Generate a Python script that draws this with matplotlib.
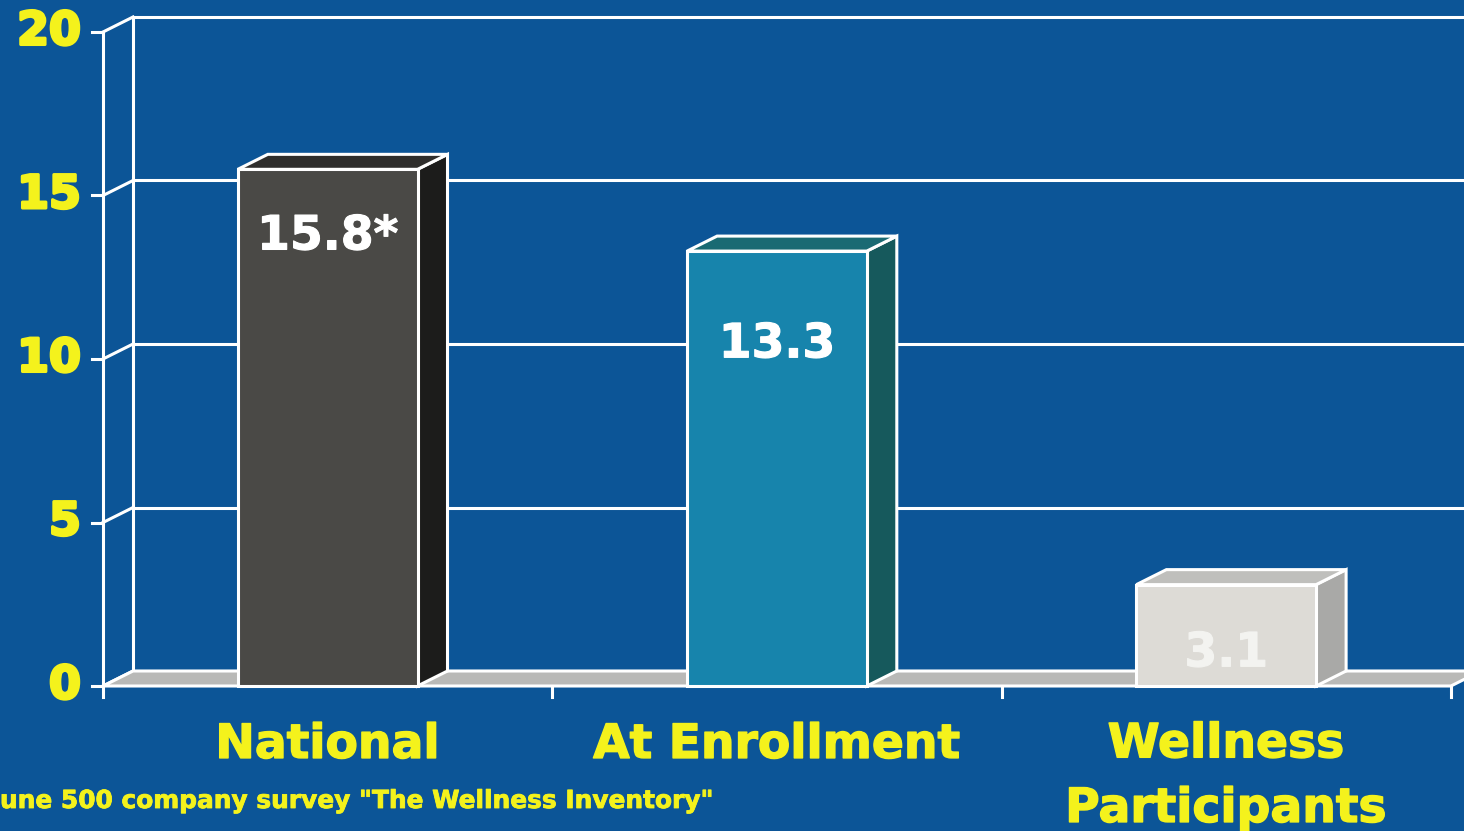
import matplotlib
matplotlib.use("Agg")
import matplotlib.pyplot as plt
from matplotlib.patches import Polygon
import matplotlib.patheffects as pe

# ---- data ----
categories = ["National", "At Enrollment", "Wellness\nParticipants"]
values = [15.8, 13.3, 3.1]
value_labels = ["15.8*", "13.3", "3.1"]
yticks = [0, 5, 10, 15, 20]
footnote = 'une 500 company survey "The Wellness Inventory"'

# ---- style ----
BG = "#0c5597"
YELLOW = "#f4f21c"
front_cols = ["#4a4946", "#1784ac", "#dddbd6"]
side_cols = ["#1c1c1b", "#16595c", "#a9a9a7"]
top_cols = ["#2f2e2c", "#1a6a73", "#bfbfbc"]
label_cols = ["white", "white", "#f3f3f0"]
label_drop = [2.45, 3.25, 2.5]   # label baseline below bar top (data units)

W, H = 1464, 831
fig = plt.figure(figsize=(W / 100, H / 100), dpi=100, facecolor=BG)
ax = fig.add_axes([0, 0, 1, 1])
ax.set_facecolor(BG)
ax.axis("off")

# pixel-calibrated limits: category i centred at i, value scale 32.7 px/unit
PXU_X, PXU_Y = 449.3, 32.7
X0PX, Y0PX = 103, 686
ax.set_xlim((0 - X0PX) / PXU_X - 0.5, (W - X0PX) / PXU_X - 0.5)
ax.set_ylim((Y0PX - H) / PXU_Y, Y0PX / PXU_Y)

DX = 30 / PXU_X        # depth offset x
DY = 15 / PXU_Y        # depth offset y
left = -0.5
right = left + len(categories)
hw = 0.2
LW = 2.2

heavy = [pe.withStroke(linewidth=2.2, foreground=YELLOW)]
bold_y = [pe.withStroke(linewidth=1.0, foreground=YELLOW)]

# back wall gridlines + left diagonals + left front ticks
for t in yticks:
    ax.plot([left + DX, right + DX + 1], [t + DY, t + DY], color="white", lw=LW, zorder=1)
    ax.plot([left, left + DX], [t, t + DY], color="white", lw=LW, zorder=1)
    ax.plot([left - 11 / PXU_X, left], [t, t], color="white", lw=LW, zorder=1)
    ax.text(left - 22 / PXU_X, t, str(t), color=YELLOW, fontsize=33, fontweight="heavy",
            ha="right", va="center", zorder=5, path_effects=heavy)
ax.plot([left + DX, left + DX], [0 + DY, max(yticks) + DY], color="white", lw=LW, zorder=1)
ax.plot([left, left], [-11 / PXU_Y, max(yticks)], color="white", lw=LW, zorder=1)

# floor
floor = Polygon([[left, 0], [right, 0], [right + DX, DY], [left + DX, DY]], closed=True,
                facecolor="#b9b9b7", edgecolor="white", lw=LW, zorder=2)
ax.add_patch(floor)
for i in range(1, len(categories) + 1):
    ax.plot([left + i, left + i], [0, -11 / PXU_Y], color="white", lw=LW, zorder=2)

# bars
for i, v in enumerate(values):
    x0, x1 = i - hw, i + hw
    front = Polygon([[x0, 0], [x1, 0], [x1, v], [x0, v]], closed=True,
                    facecolor=front_cols[i], edgecolor="white", lw=LW, zorder=4)
    side = Polygon([[x1, 0], [x1 + DX, DY], [x1 + DX, v + DY], [x1, v]], closed=True,
                   facecolor=side_cols[i], edgecolor="white", lw=LW, zorder=3)
    top = Polygon([[x0, v], [x1, v], [x1 + DX, v + DY], [x0 + DX, v + DY]], closed=True,
                  facecolor=top_cols[i], edgecolor="white", lw=LW, zorder=3)
    for p in (side, top, front):
        ax.add_patch(p)
    ax.text(i, v - label_drop[i], value_labels[i], color=label_cols[i], fontsize=34,
            fontweight="bold", ha="center", va="baseline", zorder=6,
            path_effects=[pe.withStroke(linewidth=0.8, foreground=label_cols[i])])

# category labels (multi-line labels: extra lines go below)
LINE_STEP = 64 / PXU_Y
for i, c in enumerate(categories):
    nl = c.count("\n")
    ax.text(i, -2.2 - nl * LINE_STEP, c, color=YELLOW, fontsize=34, fontweight="bold",
            ha="center", va="baseline", linespacing=1.56, zorder=6, path_effects=bold_y)

ax.text((0 - X0PX) / PXU_X - 0.5, (Y0PX - 808) / PXU_Y, footnote, color=YELLOW,
        fontsize=17.9, fontweight="bold", ha="left", va="baseline", zorder=6,
        path_effects=[pe.withStroke(linewidth=0.6, foreground=YELLOW)])

fig.savefig("out.png", dpi=100, facecolor=BG)
